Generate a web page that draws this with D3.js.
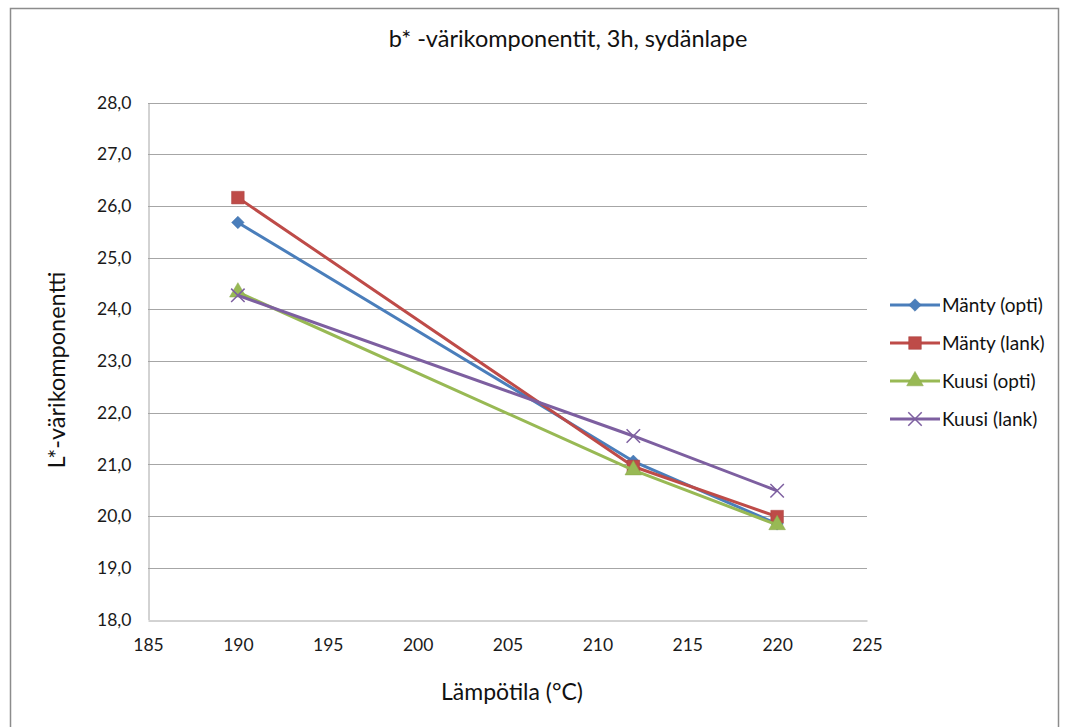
<!DOCTYPE html>
<html>
<head>
<meta charset="utf-8">
<script src="https://cdn.jsdelivr.net/npm/d3@7"></script>
<style>
  body { margin: 0; background: #fff; }
  svg { display: block; font-family: Lato, "Open Sans", "Noto Sans", sans-serif; }
</style>
</head>
<body>
<div id="chart"></div>
<script>
// Temperatures (°C) and colour-component readings per series
const temperatures = [190, 212, 220];
const mantyOpti = [25.68, 21.06, 19.85];
const mantyLank = [26.16, 20.96, 19.99];
const kuusiOpti = [24.33, 20.89, 19.83];
const kuusiLank = [24.27, 21.55, 20.49];
const seriesNames = ["Mänty (opti)", "Mänty (lank)", "Kuusi (opti)", "Kuusi (lank)"];
const seriesColors = ["#4a7ebb", "#be4b48", "#98b954", "#7d5fa0"];
const seriesSymbols = ["diamond", "square", "triangle", "cross"];
const xTicks = [185, 190, 195, 200, 205, 210, 215, 220, 225];
const yTicks = [18, 19, 20, 21, 22, 23, 24, 25, 26, 27, 28];

const titleText = "b* -värikomponentit, 3h, sydänlape";
const xLabel = "Lämpötila (°C)";
const yLabel = "L*-värikomponentti";

const W = 1067, H = 727;
const plot = { left: 148, right: 867, top: 102.5, bottom: 619.5 };

const svg = d3.select("#chart").append("svg").attr("width", W).attr("height", H);

// chart frame
svg.append("rect").attr("x", 10.5).attr("y", 8.5).attr("width", 1048).attr("height", 740)
  .attr("fill", "#fff").attr("stroke", "#8c8c8c").attr("stroke-width", 1.5);

const x = d3.scaleLinear().domain([185, 225]).range([plot.left, plot.right]);
const y = d3.scaleLinear().domain([18, 28]).range([plot.bottom, plot.top]);

// horizontal gridlines
svg.append("g").selectAll("line").data(yTicks.filter(v => v > 18)).join("line")
  .attr("x1", plot.left).attr("x2", plot.right)
  .attr("y1", d => Math.round(y(d)) + 0.5).attr("y2", d => Math.round(y(d)) + 0.5)
  .attr("stroke", "#a6a6a6").attr("stroke-width", 1);

// axes
const fmt = d => d.toFixed(1).replace(".", ",");
const yAxis = svg.append("g").attr("transform", `translate(${plot.left + 0.5},0)`)
  .call(d3.axisLeft(y).tickValues(yTicks).tickFormat(fmt).tickSize(0).tickPadding(17));
const xAxis = svg.append("g").attr("transform", `translate(0,${Math.round(plot.bottom) + 0.5})`)
  .call(d3.axisBottom(x).tickValues(xTicks).tickFormat(d3.format("d")).tickSize(0).tickPadding(18));
[xAxis, yAxis].forEach(a => {
  a.select(".domain").attr("stroke", "#a6a6a6").attr("stroke-width", 1);
  a.selectAll("text").attr("fill", "#1a1a1a").style("font-size", "17.5px")
    .style("font-family", "Lato, 'Open Sans', sans-serif");
});

// titles
svg.append("text").attr("x", 568).attr("y", 47).attr("text-anchor", "middle")
  .style("font-size", "23.5px").attr("fill", "#111").text(titleText);
svg.append("text").attr("x", 512).attr("y", 700).attr("text-anchor", "middle")
  .style("font-size", "23px").attr("fill", "#111").text(xLabel);
svg.append("text").attr("transform", "translate(65,370) rotate(-90)").attr("text-anchor", "middle")
  .style("font-size", "23.5px").attr("fill", "#111").text(yLabel);

const allSeries = [mantyOpti, mantyLank, kuusiOpti, kuusiLank];

function symbolPath(kind) {
  const map = { diamond: d3.symbolDiamond2, square: d3.symbolSquare, triangle: d3.symbolTriangle, cross: d3.symbolX };
  const size = { diamond: 100, square: 160, triangle: 120, cross: 120 }[kind];
  return d3.symbol(map[kind], size)();
}
function drawMarker(g, kind, color) {
  const p = g.append("path").attr("d", symbolPath(kind));
  if (kind === "cross") p.attr("fill", "none").attr("stroke", color).attr("stroke-width", 1.5);
  else p.attr("fill", color).attr("stroke", d3.color(color).darker(0.3)).attr("stroke-width", 0.5);
}

const line = d3.line().x(d => x(d[0])).y(d => y(d[1]));
allSeries.forEach((vals, i) => {
  const pts = temperatures.map((t, j) => [t, vals[j]]);
  const g = svg.append("g");
  g.append("path").attr("d", line(pts)).attr("fill", "none")
    .attr("stroke", seriesColors[i]).attr("stroke-width", 3).attr("stroke-linejoin", "round");
  pts.forEach(p => {
    drawMarker(g.append("g").attr("transform", `translate(${x(p[0])},${y(p[1])})`),
      seriesSymbols[i], seriesColors[i]);
  });
});

// legend
const legend = svg.append("g");
seriesNames.forEach((name, i) => {
  const ly = 305 + i * 38;
  const row = legend.append("g").attr("transform", `translate(890,${ly})`);
  row.append("line").attr("x1", 0).attr("x2", 50).attr("stroke", seriesColors[i]).attr("stroke-width", 3);
  drawMarker(row.append("g").attr("transform", "translate(25,0)"), seriesSymbols[i], seriesColors[i]);
  row.append("text").attr("x", 52).attr("y", 7).style("font-size", "19px").attr("fill", "#111").text(name);
});
</script>
</body>
</html>
